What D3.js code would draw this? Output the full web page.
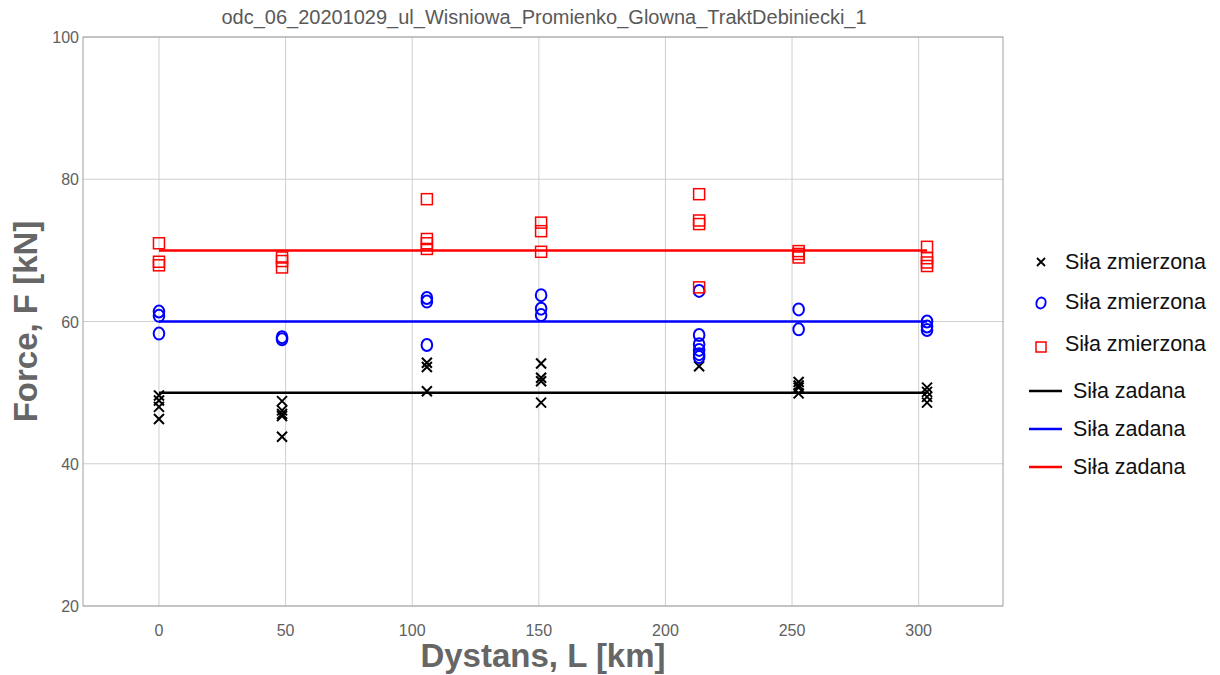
<!DOCTYPE html>
<html>
<head>
<meta charset="utf-8">
<script src="https://cdn.jsdelivr.net/npm/d3@7"></script>
<style>
  body { margin: 0; background: #fff; }
  svg { font-family: "Liberation Sans", Arial, sans-serif; }
</style>
</head>
<body>
<svg id="chart" width="1220" height="675"></svg>
<script>
// measurement points along the route
var distances = [0, 48.6, 105.8, 150.9, 213.3, 252.6, 303.3]

// measured forces at each point, per load level
var measured50 = [
  [49.6, 48.9, 48.0, 46.3],
  [48.8, 47.5, 47.0, 46.7, 43.8],
  [54.2, 53.6, 50.2],
  [54.1, 52.1, 51.6, 48.6],
  [53.7],
  [51.5, 51.0, 50.7, 49.9],
  [50.7, 50.1, 49.4, 48.6]
]
var measured60 = [
  [61.4, 60.8, 58.3],
  [57.8, 57.5],
  [63.3, 62.8, 56.7],
  [63.7, 61.8, 60.9],
  [64.3, 58.1, 56.8, 56.0, 55.4, 55.0],
  [61.7, 58.9],
  [60.0, 59.3, 58.8]
]
var measured70 = [
  [71.0, 68.4, 67.9],
  [69.0, 68.5, 67.6],
  [77.2, 71.6, 71.0, 70.2],
  [73.9, 72.7, 69.8],
  [77.9, 74.2, 73.7, 64.8],
  [69.9, 69.5, 69.0],
  [70.5, 68.9, 68.3, 67.8]
]
var setForces = [50, 60, 70]
var seriesColors = ['#000000', '#0000ff', '#ff0000']

var xTicks = [0, 50, 100, 150, 200, 250, 300]
var yTicks = [20, 40, 60, 80, 100]

var title = 'odc_06_20201029_ul_Wisniowa_Promienko_Glowna_TraktDebiniecki_1'
var legendLabels = ['Siła zmierzona', 'Siła zmierzona', 'Siła zmierzona', 'Siła zadana', 'Siła zadana', 'Siła zadana']

var svg = d3.select('#chart')
var m = {left: 83, top: 37, right: 1003, bottom: 606}

var x = d3.scaleLinear().domain([-30, 333.3]).range([m.left, m.right])
var y = d3.scaleLinear().domain([20, 100]).range([m.bottom, m.top])

// grid
svg.append('g').selectAll('line.gx').data(xTicks).join('line')
  .attr('x1', d => x(d)).attr('x2', d => x(d))
  .attr('y1', m.top).attr('y2', m.bottom)
  .attr('stroke', '#cfcfcf').attr('stroke-width', 1)
svg.append('g').selectAll('line.gy').data(yTicks).join('line')
  .attr('x1', m.left).attr('x2', m.right)
  .attr('y1', d => y(d)).attr('y2', d => y(d))
  .attr('stroke', '#cfcfcf').attr('stroke-width', 1)

// frame
svg.append('rect')
  .attr('x', m.left).attr('y', m.top)
  .attr('width', m.right - m.left).attr('height', m.bottom - m.top)
  .attr('fill', 'none').attr('stroke', '#a0a0a0').attr('stroke-width', 1)

// tick labels
svg.append('g').selectAll('text').data(xTicks).join('text')
  .attr('x', d => x(d)).attr('y', m.bottom + 30)
  .attr('text-anchor', 'middle').attr('font-size', 16).attr('fill', '#606060')
  .text(d => d)
svg.append('g').selectAll('text').data(yTicks).join('text')
  .attr('x', m.left - 4).attr('y', d => y(d) + 6)
  .attr('text-anchor', 'end').attr('font-size', 16).attr('fill', '#606060')
  .text(d => d)

// titles
svg.append('text').attr('x', 544).attr('y', 24)
  .attr('text-anchor', 'middle').attr('font-size', 20).attr('fill', '#595959')
  .text(title)
svg.append('text').attr('x', 543).attr('y', 667)
  .attr('text-anchor', 'middle').attr('font-size', 33).attr('font-weight', 'bold').attr('fill', '#666')
  .text('Dystans, L [km]')
svg.append('text')
  .attr('transform', 'translate(37,' + ((m.top + m.bottom) / 2) + ') rotate(-90)')
  .attr('text-anchor', 'middle').attr('font-size', 33).attr('font-weight', 'bold').attr('fill', '#666')
  .text('Force, F [kN]')

// set force lines
var xMin = d3.min(distances), xMax = d3.max(distances)
svg.append('g').selectAll('line').data(setForces).join('line')
  .attr('x1', x(xMin)).attr('x2', x(xMax))
  .attr('y1', d => y(d)).attr('y2', d => y(d))
  .attr('stroke', (d, i) => seriesColors[i]).attr('stroke-width', 2.5)

function flatten(series) {
  var pts = []
  series.forEach(function(vals, i) {
    vals.forEach(function(v) { pts.push({d: distances[i], f: v}) })
  })
  return pts
}

// crosses
var cross = svg.append('g').selectAll('g').data(flatten(measured50)).join('g')
  .attr('transform', p => 'translate(' + x(p.d) + ',' + y(p.f) + ')')
cross.append('path').attr('d', 'M-5,-5L5,5M-5,5L5,-5')
  .attr('stroke', seriesColors[0]).attr('stroke-width', 2)

// circles
svg.append('g').selectAll('ellipse').data(flatten(measured60)).join('ellipse')
  .attr('cx', p => x(p.d)).attr('cy', p => y(p.f))
  .attr('rx', 5.3).attr('ry', 6)
  .attr('fill', 'none').attr('stroke', seriesColors[1]).attr('stroke-width', 2)

// squares
svg.append('g').selectAll('rect').data(flatten(measured70)).join('rect')
  .attr('x', p => x(p.d) - 5.5).attr('y', p => y(p.f) - 5.5)
  .attr('width', 11).attr('height', 11)
  .attr('fill', 'none').attr('stroke', seriesColors[2]).attr('stroke-width', 1.5)

// legend
var legY = [262, 302, 344, 391, 429, 467]
var leg = svg.append('g')
legendLabels.forEach(function(lab, i) {
  var ly = legY[i]
  if (i == 0) {
    leg.append('path').attr('d', 'M' + (1041 - 4) + ',' + (ly - 4) + 'L' + (1041 + 4) + ',' + (ly + 4) +
      'M' + (1041 - 4) + ',' + (ly + 4) + 'L' + (1041 + 4) + ',' + (ly - 4))
      .attr('stroke', seriesColors[0]).attr('stroke-width', 1.8)
  } else if (i == 1) {
    leg.append('ellipse').attr('cx', 1041).attr('cy', ly + 1).attr('rx', 4.5).attr('ry', 5.5)
      .attr('transform', 'rotate(20,1041,' + (ly + 1) + ')')
      .attr('fill', 'none').attr('stroke', seriesColors[1]).attr('stroke-width', 2)
  } else if (i == 2) {
    leg.append('rect').attr('x', 1036).attr('y', ly - 2).attr('width', 10).attr('height', 10)
      .attr('fill', 'none').attr('stroke', seriesColors[2]).attr('stroke-width', 1.5)
  } else {
    leg.append('line').attr('x1', 1029).attr('x2', 1062).attr('y1', ly).attr('y2', ly)
      .attr('stroke', seriesColors[i - 3]).attr('stroke-width', 2.5)
  }
  leg.append('text').attr('x', i < 3 ? 1065 : 1073).attr('y', ly + 7)
    .attr('font-size', 21.5).attr('fill', '#111').text(lab)
})
</script>
</body>
</html>
